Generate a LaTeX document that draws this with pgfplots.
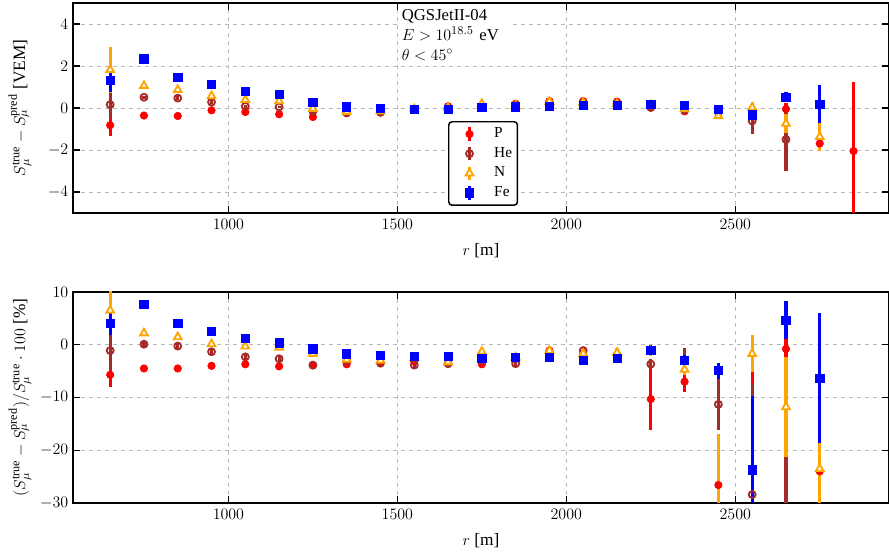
\documentclass[border=0pt]{standalone}
\usepackage{pgfplots}
\pgfplotsset{compat=1.18}
\usepackage{pgfplotstable}
\usepackage{fontspec}
\setmainfont{Liberation Serif}
\definecolor{mplbrown}{HTML}{A52A2A}
\definecolor{mplorange}{HTML}{FFA500}
\definecolor{mplred}{HTML}{FF0000}
\definecolor{mplblue}{HTML}{0000FF}

% ---------- top panel: S_true - S_pred [VEM] ----------
\pgfplotstableread[row sep=\\]{
x y e\\
650 -0.82 0.50\\ 750 -0.36 0.08\\ 850 -0.38 0.08\\ 950 -0.11 0.08\\
1050 -0.19 0.06\\ 1150 -0.30 0.06\\ 1250 -0.43 0.06\\ 1350 -0.25 0.06\\
1450 -0.22 0.06\\ 1550 -0.05 0.06\\ 1650 0.08 0.06\\ 1750 0.05 0.06\\
1850 0.20 0.06\\ 1950 0.33 0.08\\ 2050 0.33 0.08\\ 2150 0.30 0.08\\
2250 0.15 0.10\\ 2350 -0.16 0.10\\ 2450 -0.15 0.15\\ 2550 -0.30 0.20\\
2650 -0.05 0.30\\ 2750 -1.69 0.30\\ 2850 -2.05 3.30\\
}\topP
\pgfplotstableread[row sep=\\]{
x y e\\
650 0.16 0.70\\ 750 0.51 0.08\\ 850 0.47 0.08\\ 950 0.28 0.08\\
1050 0.08 0.08\\ 1150 0.05 0.06\\ 1250 -0.16 0.06\\ 1350 -0.22 0.06\\
1450 -0.20 0.06\\ 1550 -0.07 0.06\\ 1650 0.00 0.06\\ 1750 0.05 0.06\\
1850 0.15 0.06\\ 1950 0.25 0.08\\ 2050 0.28 0.08\\ 2150 0.22 0.08\\
2250 0.02 0.10\\ 2350 -0.10 0.10\\ 2450 -0.20 0.15\\ 2550 -0.62 0.60\\
2650 -1.50 1.50\\
}\topHe
\pgfplotstableread[row sep=\\]{
x y e\\
650 1.82 1.10\\ 750 1.06 0.10\\ 850 0.87 0.10\\ 950 0.57 0.10\\
1050 0.39 0.08\\ 1150 0.33 0.08\\ 1250 -0.03 0.08\\ 1350 -0.18 0.06\\
1450 -0.15 0.06\\ 1550 -0.05 0.06\\ 1650 0.00 0.06\\ 1750 0.20 0.06\\
1850 0.10 0.06\\ 1950 0.30 0.08\\ 2050 0.25 0.08\\ 2150 0.20 0.08\\
2250 0.15 0.10\\ 2350 -0.05 0.10\\ 2450 -0.38 0.10\\ 2550 0.02 0.25\\
2650 -0.74 0.45\\ 2750 -1.37 0.70\\
}\topN
\pgfplotstableread[row sep=\\]{
x y e\\
650 1.31 0.55\\ 750 2.34 0.10\\ 850 1.47 0.10\\ 950 1.11 0.10\\
1050 0.79 0.08\\ 1150 0.65 0.08\\ 1250 0.28 0.08\\ 1350 0.05 0.06\\
1450 0.00 0.06\\ 1550 -0.08 0.06\\ 1650 -0.05 0.06\\ 1750 0.02 0.06\\
1850 0.05 0.06\\ 1950 0.08 0.08\\ 2050 0.11 0.08\\ 2150 0.11 0.08\\
2250 0.16 0.10\\ 2350 0.13 0.10\\ 2450 -0.06 0.10\\ 2550 -0.32 0.20\\
2650 0.52 0.25\\ 2750 0.19 0.90\\
}\topFe

% ---------- bottom panel: relative difference [%] ----------
\pgfplotstableread[row sep=\\]{
x y e\\
650 -5.7 2.4\\ 750 -4.5 0.6\\ 850 -4.5 0.4\\ 950 -4.0 0.4\\
1050 -3.7 0.4\\ 1150 -4.1 0.4\\ 1250 -3.9 0.4\\ 1350 -3.7 0.4\\
1450 -3.4 0.4\\ 1550 -3.2 0.4\\ 1650 -2.8 0.4\\ 1750 -3.7 0.5\\
1850 -2.6 0.5\\ 1950 -1.1 0.6\\ 2050 -1.8 0.7\\ 2150 -2.0 0.8\\
2250 -10.3 5.9\\ 2350 -7.0 1.9\\ 2450 -26.6 4.0\\ 2550 -33.0 28.0\\
2650 -0.8 8.0\\ 2750 -24.0 7.0\\
}\botP
\pgfplotstableread[row sep=\\]{
x y e\\
650 -1.1 3.8\\ 750 0.1 0.5\\ 850 -0.25 0.5\\ 950 -1.33 0.5\\
1050 -2.3 0.5\\ 1150 -2.66 0.5\\ 1250 -3.86 0.5\\ 1350 -3.2 0.5\\
1450 -3.5 0.5\\ 1550 -3.86 0.5\\ 1650 -3.6 0.5\\ 1750 -3.0 0.5\\
1850 -3.6 0.5\\ 1950 -1.5 0.6\\ 2050 -1.1 0.7\\ 2150 -2.0 0.8\\
2250 -3.67 1.0\\ 2350 -3.0 2.3\\ 2450 -11.3 4.9\\ 2550 -28.4 21.0\\
2650 -40.0 19.0\\
}\botHe
\pgfplotstableread[row sep=\\]{
x y e\\
650 6.5 4.5\\ 750 2.2 0.6\\ 850 1.46 0.5\\ 950 0.13 0.5\\
1050 -0.3 0.5\\ 1150 -0.5 0.5\\ 1250 -1.7 0.5\\ 1350 -2.8 0.5\\
1450 -3.0 0.5\\ 1550 -2.5 0.5\\ 1650 -3.3 0.5\\ 1750 -1.3 0.5\\
1850 -2.4 0.5\\ 1950 -1.1 0.6\\ 2050 -1.7 0.7\\ 2150 -1.5 0.8\\
2250 -1.2 1.0\\ 2350 -4.7 1.0\\ 2450 -45.0 28.0\\ 2550 -1.7 3.5\\
2650 -11.8 9.5\\ 2750 -23.5 8.0\\
}\botN
\pgfplotstableread[row sep=\\]{
x y e\\
650 4.1 2.2\\ 750 7.6 0.6\\ 850 4.1 0.5\\ 950 2.5 0.5\\
1050 1.2 0.5\\ 1150 0.38 0.5\\ 1250 -0.76 0.5\\ 1350 -1.7 0.5\\
1450 -2.0 0.5\\ 1550 -2.15 0.5\\ 1650 -2.2 0.5\\ 1750 -2.6 0.5\\
1850 -2.4 0.5\\ 1950 -2.4 0.6\\ 2050 -3.0 0.7\\ 2150 -2.6 0.8\\
2250 -1.0 1.0\\ 2350 -3.0 1.0\\ 2450 -4.9 1.5\\ 2550 -23.7 13.9\\
2650 4.6 3.6\\ 2750 -6.3 12.3\\
}\botFe

\pgfplotsset{
  panel/.style={
    scale only axis, width=612pt,
    xmin=540, xmax=2955,
    xtick={1000,1500,2000,2500},
    xticklabel style={/pgf/number format/1000 sep={}, yshift=-1pt},
    minor tick num=0,
    tick align=inside,
    xtick pos=both, ytick pos=both,
    major tick length=5pt,
    tick style={line width=0.9pt, black},
    axis line style={line width=1.2pt},
    grid=major,
    major grid style={dashed, gray!55, line width=0.5pt},
    ticklabel style={font=\fontsize{12}{14}\selectfont},
    label style={font=\fontsize{13}{15}\selectfont},
    xlabel={$r$ [m]},
    xlabel style={yshift=-4pt},
    ylabel style={at={(axis description cs:-0.065,0.5)}, anchor=center},
    every axis plot/.append style={only marks,
      legend image code/.code={
        \draw[#1, line width=2.4pt, mark=none, solid] (13pt,-5pt) -- (13pt,5pt);
        \draw[#1] plot coordinates {(13pt,0pt)};
        \path (0pt,0pt) (29pt,0pt);
      }},
  },
  ebar/.style={error bars/.cd, y dir=both, y explicit, error mark=none,
    error bar style={line width=2.4pt, solid, #1}},
  sP/.style={color=mplred, mark=*, mark size=2.8pt, mark options={fill=mplred, draw=mplred, line width=0.5pt}},
  sHe/.style={color=mplbrown, mark=o, mark size=2.6pt, mark options={fill=white, draw=mplbrown, line width=1.4pt}},
  sN/.style={color=mplorange, mark=triangle*, mark size=3.3pt, mark options={fill=white, draw=mplorange, line width=1.4pt}},
  sFe/.style={color=mplblue, mark=square*, mark size=3.1pt, mark options={fill=mplblue, draw=mplblue, line width=0.5pt}},
}

\begin{document}
\begin{tikzpicture}
\useasboundingbox (0,0) rectangle (666.75pt,416.25pt);

% ================= top panel =================
\begin{axis}[panel,
  at={(54.75pt,256.5pt)}, anchor=south west, height=157.5pt,
  ymin=-5, ymax=5, ytick={-4,-2,0,2,4},
  ylabel={$S_\mu^{\mathrm{true}} - S_\mu^{\mathrm{pred}}$ [VEM]},
  legend style={at={(rel axis cs:0.4596,0.438)}, anchor=north west,
    draw=black, line width=1.1pt, rounded corners=2.5pt, fill=white,
    font=\fontsize{11.5}{13}\selectfont, row sep=2.2pt,
    inner xsep=2pt, inner ysep=3pt,
    nodes={inner ysep=1pt, text height=8pt, text depth=2.5pt},
    cells={anchor=west}},
]
\addplot+[sP, ebar=mplred] table[x=x, y=y, y error=e] {\topP};
\addlegendentry{P}
\addplot+[sHe, ebar=mplbrown] table[x=x, y=y, y error=e] {\topHe};
\addlegendentry{He}
\addplot+[sN, ebar=mplorange] table[x=x, y=y, y error=e] {\topN};
\addlegendentry{N}
\addplot+[sFe, ebar=mplblue] table[x=x, y=y, y error=e] {\topFe};
\addlegendentry{Fe}
\node[anchor=north west, fill=white, inner xsep=2pt, inner ysep=4pt,
      text width=81pt, align=left,
      font=\fontsize{12.5}{15}\selectfont]
  at (rel axis cs:0.3995,0.998)
  {QGSJetII-04\\ $E > 10^{18.5}$ eV\\ $\theta < 45^\circ$};
\end{axis}

% ================= bottom panel =================
\begin{axis}[panel,
  at={(54.75pt,39pt)}, anchor=south west, height=158.25pt,
  ymin=-30, ymax=10, ytick={-30,-20,-10,0,10},
  ylabel={$(S_\mu^{\mathrm{true}} - S_\mu^{\mathrm{pred}})/S_\mu^{\mathrm{true}}\cdot 100$ [\%]},
]
\addplot+[sP, ebar=mplred] table[x=x, y=y, y error=e] {\botP};
\addplot+[sHe, ebar=mplbrown] table[x=x, y=y, y error=e] {\botHe};
\addplot+[sN, ebar=mplorange] table[x=x, y=y, y error=e] {\botN};
\addplot+[sFe, ebar=mplblue] table[x=x, y=y, y error=e] {\botFe};
\end{axis}
\end{tikzpicture}
\end{document}
